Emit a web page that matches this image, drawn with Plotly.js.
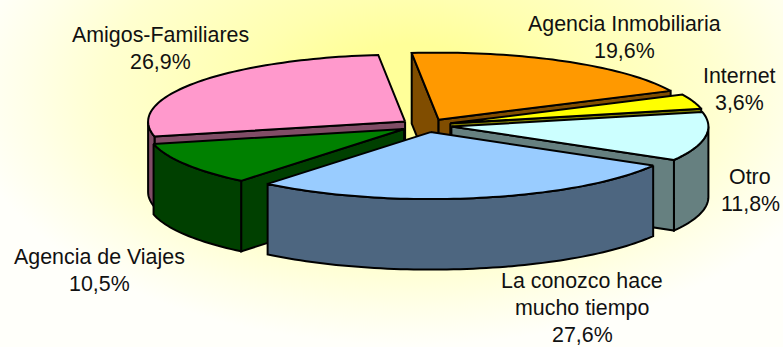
<!DOCTYPE html>
<html><head><meta charset="utf-8">
<script src="https://cdn.plot.ly/plotly-3.0.1.min.js"></script>
<style>
html,body{margin:0;padding:0;background:#fff}
#chart{width:783px;height:347px;background:radial-gradient(ellipse 450px 255px at 410px 90px,#ffff99 0%,#ffff99 18%,#ffffb0 36%,#ffffd0 68%,#ffffe8 85%,#fffffa 100%)}
</style></head><body><div id="chart"></div>
<script>
var categories=["Agencia Inmobiliaria","Internet","Otro","La conozco hace mucho tiempo","Agencia de Viajes","Amigos-Familiares"];
var values=[19.6,3.6,11.8,27.6,10.5,26.9];
var topColors=["#FF9900","#FFFF00","#CCFFFF","#99CCFF","#008000","#FF99CC"];
var wallColors=["#804D00","#808000","#668080","#4D6680","#004000","#804D66"];
var labelLines=[["Agencia Inmobiliaria"],["Internet"],["Otro"],["La conozco hace","mucho tiempo"],["Agencia de Viajes"],["Amigos-Familiares"]];
var labelCenters=[[624,23.5],[739.5,76],[750,176.5],[582,280.5],[99,257],[160,35]];
var drawOrder=[5,0,1,2,4,3];

var cx=426,cy=125.5,rx=257,ry=67,depth=70.5,explode=0.1,startDeg=-6,lineGap=27.4;
var rad=Math.PI/180;
var total=values.reduce(function(a,b){return a+b},0);
var cum=startDeg,slices=values.map(function(v){
  var s=cum,e=cum+v/total*360;cum=e;
  var m=(s+e)/2*rad;
  return {s:s,e:e,ax:cx+explode*rx*Math.sin(m),ay:cy-explode*ry*Math.cos(m)};
});
function pt(sl,deg,dz){return [sl.ax+rx*Math.sin(deg*rad),sl.ay-ry*Math.cos(deg*rad)+dz];}
function arc(sl,a,b,dz){var out=[],n=Math.max(2,Math.ceil(Math.abs(b-a)/1.5));
  for(var i=0;i<=n;i++)out.push(pt(sl,a+(b-a)*i/n,dz));return out;}
function poly(points,color){
  var xs=points.map(function(p){return p[0]}),ys=points.map(function(p){return p[1]});
  xs.push(xs[0]);ys.push(ys[0]);
  return {type:"scatter",mode:"lines",x:xs,y:ys,fill:"toself",fillcolor:color,
    line:{color:"#000",width:2,simplify:false},hoverinfo:"skip",showlegend:false};
}
var traces=[];
drawOrder.forEach(function(i){
  var sl=slices[i],wall=wallColors[i],A=[sl.ax,sl.ay],B=[sl.ax,sl.ay+depth];
  if(Math.sin(sl.s*rad)<0)traces.push(poly([A,pt(sl,sl.s,0),pt(sl,sl.s,depth),B],wall));
  if(Math.sin(sl.e*rad)>0)traces.push(poly([A,pt(sl,sl.e,0),pt(sl,sl.e,depth),B],wall));
  var a=Math.max(sl.s,90),b=Math.min(sl.e,270);
  if(b>a)traces.push(poly(arc(sl,a,b,0).concat(arc(sl,b,a,depth)),wall));
  traces.push(poly([A].concat(arc(sl,sl.s,sl.e,0)),topColors[i]));
});
var annotations=[];
categories.forEach(function(c,i){
  var lines=labelLines[i].concat([values[i].toFixed(1).replace(".",",")+"%"]);
  lines.forEach(function(t,k){
    annotations.push({x:labelCenters[i][0],y:labelCenters[i][1]+k*lineGap,xref:"x",yref:"y",text:t,showarrow:false,borderpad:0,
      xanchor:"center",yanchor:"middle",font:{family:"Liberation Sans, Arial, sans-serif",size:21.4,color:"#111"}});
  });
});
Plotly.newPlot("chart",traces,{
  width:783,height:347,margin:{l:0,r:0,t:0,b:0},paper_bgcolor:"rgba(0,0,0,0)",plot_bgcolor:"rgba(0,0,0,0)",
  xaxis:{range:[0,783],visible:false,fixedrange:true},yaxis:{range:[347,0],visible:false,fixedrange:true},annotations:annotations,showlegend:false
},{displayModeBar:false,staticPlot:true});
</script></body></html>
